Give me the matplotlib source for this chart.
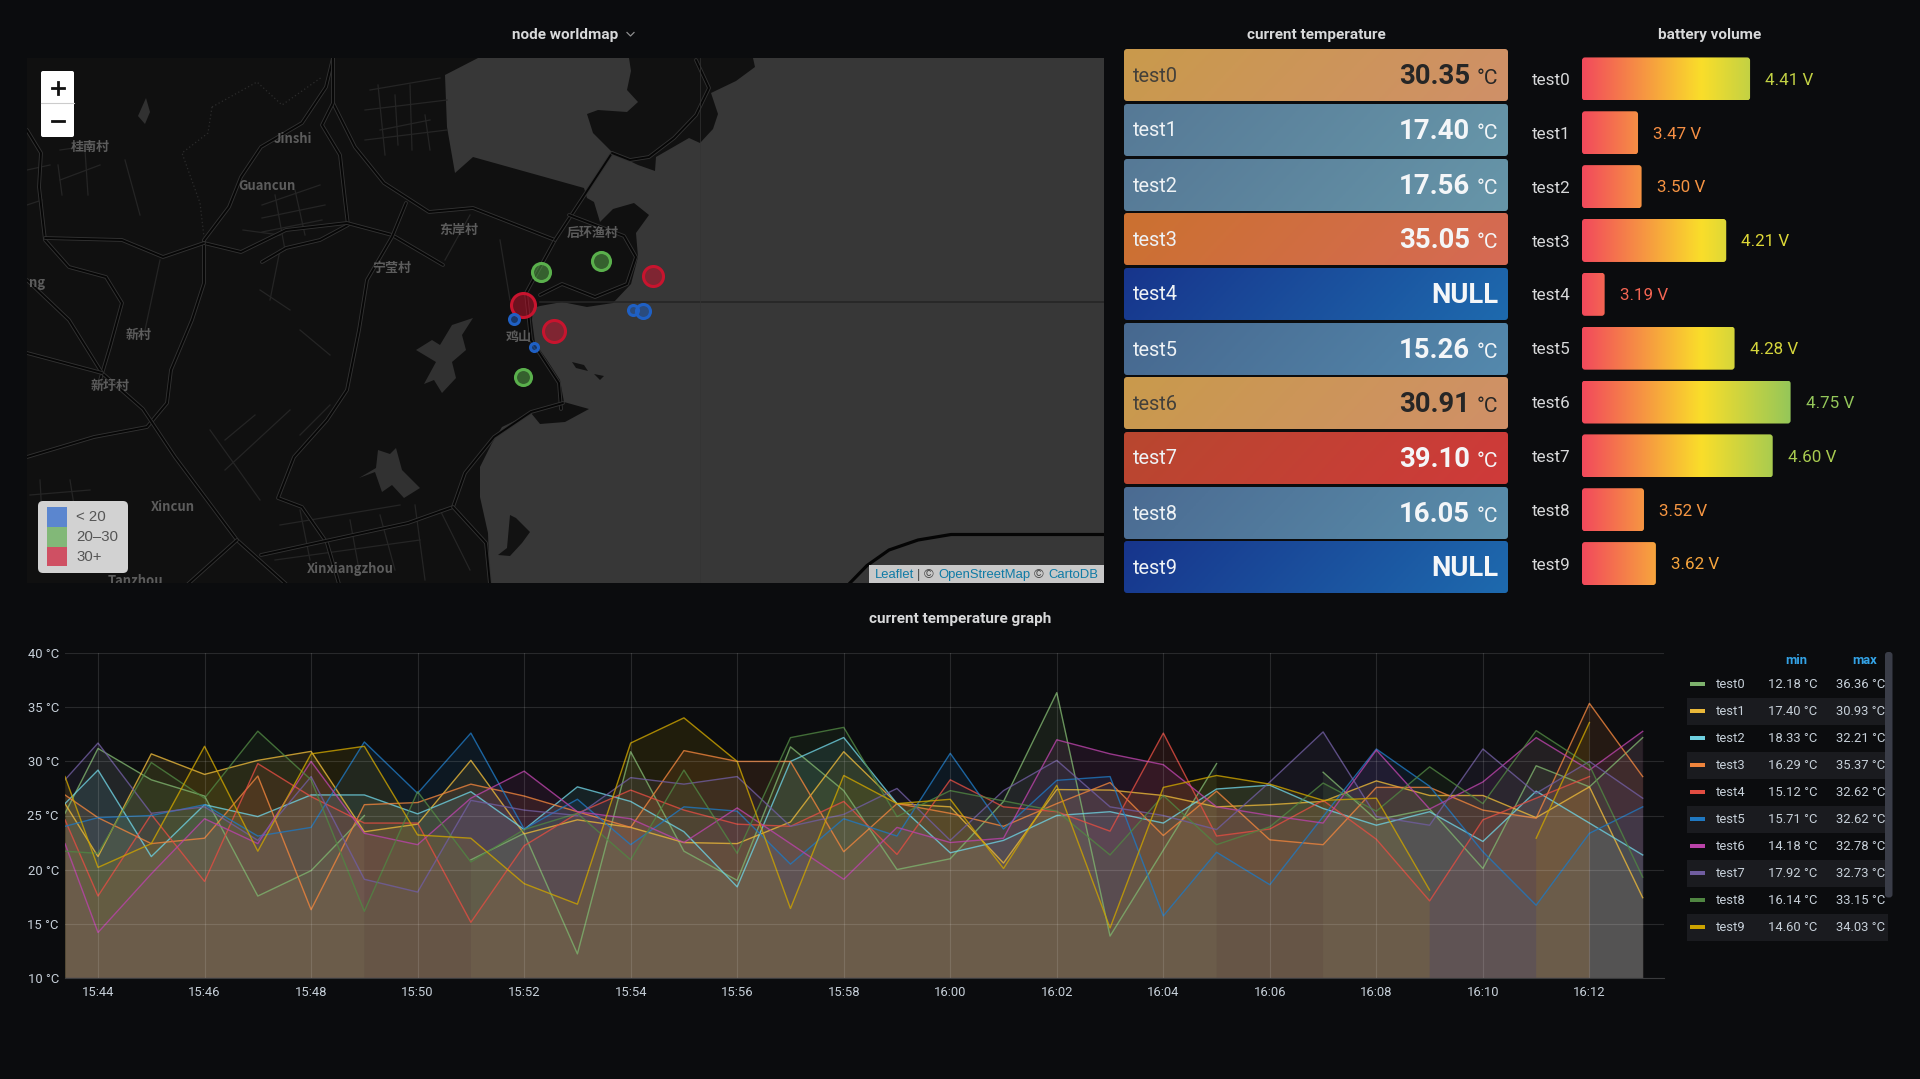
import numpy as np
import matplotlib
matplotlib.use("Agg")
import matplotlib.pyplot as plt
from matplotlib.colors import LinearSegmentedColormap, to_rgb
from matplotlib.patches import FancyBboxPatch, Polygon, Rectangle

nan = float("nan")

# ===============================
# Time series
# ===============================
# minutes after 15:44, the first sample is cut by the left edge
minutes = [-0.62] + list(range(0, 30))
tick_minutes = list(range(0, 29, 2))
tick_labels = ["15:44", "15:46", "15:48", "15:50", "15:52", "15:54", "15:56", "15:58",
               "16:00", "16:02", "16:04", "16:06", "16:08", "16:10", "16:12"]
y_ticks = [10, 15, 20, 25, 30, 35, 40]

test0 = [25.2, 31.2, 28.3, 26.8, 17.55, 19.9, 25.0, nan, 20.9, 23.35, 12.2, 30.9, 21.7, 19.0, 31.35, 27.3,
         20.0, 21.0, 26.3, 36.36, 13.85, 21.8, 29.8, nan, 29.0, 24.6, 25.6, 20.1, 29.6, 27.65, 32.2]
test1 = [26.1, 21.2, 30.7, 28.8, 30.1, 30.93, 23.5, 24.2, 30.1, 23.3, 24.6, 23.9, 22.5, 22.4, 24.4, 30.9,
         26.1, 25.8, 20.6, 27.4, 27.35, 26.85, 25.8, 26.0, 26.3, 28.2, 26.85, 26.85, 24.8, 27.65, 17.4]
test2 = [26.1, 29.2, 21.2, 26.0, 24.9, 26.9, 26.9, 25.15, 27.2, 23.7, 27.65, 26.3, 23.5, 18.4, 30.0, 32.21,
         26.1, 21.55, 22.7, 25.0, 25.35, 24.3, 27.45, 27.8, 25.65, 24.1, 25.35, 22.6, 27.25, 24.3, 21.35]
test3 = [26.9, 24.8, 22.4, 22.9, 28.65, 16.29, 26.0, 26.2, 27.9, 26.8, 25.35, 23.9, 31.0, 30.0, 30.0, 21.65,
         26.1, 25.2, 24.0, 26.1, 28.05, 23.15, 27.25, 22.75, 22.3, 27.6, 27.6, 25.5, 24.75, 35.37, 28.6]
test4 = [24.6, 17.55, 25.1, 18.9, 29.8, 26.75, 24.3, 24.3, 15.12, 22.2, 25.2, 27.35, 25.5, 24.2, 24.0, 26.3,
         21.4, 28.3, 25.8, 25.35, 23.55, 32.62, 23.1, 23.75, 26.4, 22.8, 17.1, 24.6, 26.6, 28.6, nan]
test5 = [24.0, 24.8, 25.0, 26.0, 23.1, 23.9, 31.8, 27.05, 32.62, 23.75, 26.5, 22.3, 25.8, 25.4, 20.5, 24.7,
         23.1, 30.75, 23.75, 28.25, 28.6, 15.71, 21.6, 18.6, 24.9, 31.15, 27.7, 21.65, 16.7, 23.35, 25.8]
test6 = [22.4, 14.18, 19.6, 24.7, 22.4, 30.0, 23.35, 22.3, 26.6, 29.1, 25.35, 24.7, 22.5, 25.7, 22.4, 19.1,
         23.9, 22.5, 22.9, 32.0, 30.7, 29.7, 25.8, 25.0, 24.3, 31.05, 25.6, 28.1, 32.2, 29.2, 32.78]
test7 = [28.3, 31.7, 25.2, 25.8, 22.7, 28.6, 19.1, 17.92, 26.4, 25.5, 25.0, 28.5, 27.9, 28.6, 24.0, 25.1,
         27.5, 22.7, 27.3, 30.1, 25.8, 25.0, 23.7, 28.1, 32.73, 24.9, 24.1, 31.15, 27.05, 30.0, 26.6]
test8 = [21.7, 21.5, 29.9, 26.6, 32.8, 28.3, 16.14, 27.2, 20.7, 23.7, 25.2, 20.9, 29.2, 21.5, 32.2, 33.15,
         24.9, 27.3, 26.35, 25.4, 21.35, 26.85, 22.3, 23.95, 28.0, 25.4, 29.5, 26.1, 32.85, 29.65, 19.3]
test9 = [28.6, 20.2, 22.4, 31.4, 21.7, 30.7, 31.4, 23.2, 22.9, 18.7, 16.8, 31.7, 34.03, 30.0, 16.4, 28.7,
         26.1, 26.5, 20.1, 27.8, 14.6, 27.6, 28.7, 27.9, 26.4, 26.6, 18.1, nan, 22.9, 33.6, nan]

names = ["test0", "test1", "test2", "test3", "test4", "test5", "test6", "test7", "test8", "test9"]
series = [test0, test1, test2, test3, test4, test5, test6, test7, test8, test9]
series_colors = ["#7EB26D", "#EAB839", "#6ED0E0", "#EF843C", "#E24D42",
                 "#1F78C1", "#BA43A9", "#705DA0", "#508642", "#CCA300"]
legend_min = ["12.18", "17.40", "18.33", "16.29", "15.12", "15.71", "14.18", "17.92", "16.14", "14.60"]
legend_max = ["36.36", "30.93", "32.21", "35.37", "32.62", "32.62", "32.78", "32.73", "33.15", "34.03"]

# ===============================
# Stat panels and battery gauge
# ===============================
current_temp = [30.35, 17.40, 17.56, 35.05, None, 15.26, 30.91, 39.10, 16.05, None]
temp_left = ["#c99a4c", "#567996", "#567996", "#cb7130", "#17358c",
             "#47688f", "#c99a4c", "#b8472f", "#4b6b92", "#17358c"]
temp_right = ["#d09068", "#6796a9", "#6796a9", "#d66a55", "#1e6aae",
              "#5489ad", "#d09068", "#cf3a3a", "#5a8eab", "#1e6aae"]
dark_text = [True, False, False, False, False, False, True, False, False, False]
battery = [4.41, 3.47, 3.50, 4.21, 3.19, 4.28, 4.75, 4.60, 3.52, 3.62]

# ===============================
# Map content, in reference pixels
# ===============================
sea_outline = [(478, 58), (445, 75), (447, 127), (455, 173), (473, 157), (584, 188), (587, 198), (594, 202),
               (600, 222), (613, 209), (634, 203), (649, 215), (636, 233), (638, 257), (631, 284), (613, 303),
               (587, 307), (562, 302), (540, 306), (533, 308), (532, 320), (535, 343), (547, 360), (560, 380),
               (564, 402), (589, 409), (565, 422), (540, 424), (531, 413), (502, 427), (492, 443), (480, 467),
               (480, 497), (488, 533), (490, 584), (1104, 584), (1104, 58)]
north_land = [(629, 58), (753, 58), (755, 67), (736, 81), (711, 93), (718, 114), (713, 129), (700, 143),
              (689, 138), (656, 157), (655, 171), (638, 165), (613, 153), (593, 133), (587, 114), (598, 110),
              (627, 112), (638, 102), (627, 90), (631, 71)]
islands = [[(572, 362), (584, 365), (588, 371), (576, 368)], [(594, 374), (604, 376), (600, 380)],
           [(498, 555), (507, 548), (510, 515), (516, 518), (530, 532), (522, 543), (510, 556)]]
lakes = [[(416, 350), (432, 340), (440, 345), (452, 325), (473, 318), (462, 335), (466, 350), (452, 362), (456, 378),
          (442, 393), (434, 380), (424, 384), (436, 362)],
         [(359, 478), (376, 468), (378, 450), (390, 454), (396, 448), (402, 470), (420, 488), (404, 498), (392, 485),
          (382, 492), (375, 472)],
         [(138, 116), (146, 98), (150, 112), (145, 124)]]
roads = [
    [(333, 58), (326, 87), (302, 123), (261, 147), (241, 177), (229, 207), (204, 240), (204, 283), (192, 320), (171, 370), (167, 403), (147, 427), (94, 437), (27, 457)],
    [(333, 103), (355, 147), (384, 183), (429, 212), (473, 208), (555, 240), (526, 293), (531, 340), (559, 383), (561, 409)],
    [(333, 58), (333, 103), (322, 125), (340, 155), (345, 200), (348, 225), (320, 240), (286, 248), (262, 262)],
    [(204, 243), (241, 252), (286, 230), (347, 223), (392, 235), (443, 265)],
    [(406, 203), (392, 237), (367, 280), (359, 330), (347, 390), (327, 420), (294, 457), (278, 498), (302, 507), (327, 543), (339, 584)],
    [(27, 130), (41, 153), (39, 187), (45, 240), (69, 267), (106, 277), (122, 303), (110, 347), (98, 387)],
    [(27, 280), (69, 320), (102, 373), (143, 409), (175, 457), (237, 540), (286, 584)],
    [(27, 353), (102, 373)],
    [(45, 238), (122, 240), (163, 257), (204, 243)],
    [(612, 153), (555, 240)],
    [(612, 153), (630, 160), (649, 157), (674, 138), (696, 115), (709, 88), (696, 60)],
    [(261, 555), (408, 523), (453, 507), (465, 473), (494, 437), (531, 412), (563, 403)],
    [(453, 507), (486, 543), (490, 584)],
    [(237, 540), (188, 584)],
    [(569, 215), (624, 236), (636, 257), (627, 284), (595, 297), (562, 284), (540, 295)],
]
streets = [
    [(262, 205), (320, 185)], [(262, 218), (325, 205)], [(262, 232), (322, 220)], [(275, 195), (285, 250)],
    [(295, 190), (305, 235)], [(370, 90), (440, 78)], [(365, 110), (447, 100)], [(365, 140), (447, 130)],
    [(378, 85), (385, 155)], [(410, 85), (412, 150)], [(60, 180), (100, 165)], [(125, 160), (140, 215)],
    [(160, 260), (145, 330)], [(280, 525), (400, 505)], [(300, 510), (310, 560)], [(350, 520), (360, 575)],
    [(380, 515), (395, 570)], [(415, 505), (425, 580)], [(440, 510), (470, 570)], [(30, 495), (90, 490)],
    [(40, 480), (45, 570)], [(70, 480), (78, 530)], [(275, 560), (420, 540)], [(210, 430), (260, 500)],
    [(225, 470), (290, 410)], [(300, 435), (330, 405)], [(500, 240), (510, 300)], [(470, 215), (445, 260)],
    [(27, 170), (50, 165)], [(27, 205), (42, 200)], [(60, 150), (95, 145)], [(58, 165), (62, 195)], [(85, 150), (88, 195)],
    [(380, 130), (430, 120)], [(395, 95), (398, 145)], [(425, 115), (430, 150)], [(243, 230), (280, 235)],
    [(260, 290), (290, 310)], [(280, 250), (270, 300)], [(300, 330), (330, 355)], [(225, 440), (255, 415)],
]
boundary = [[(212, 107), (257, 82), (282, 105), (322, 77)],
            [(212, 107), (208, 133), (182, 153), (200, 203), (204, 237)]]
map_labels = [("桂南村", 90, 147), ("Jinshi", 293, 139), ("Guancun", 267, 186), ("东岸村", 459, 230),
              ("宁莹村", 392, 268), ("后环渔村", 593, 233), ("新村", 139, 335), ("新圩村", 110, 386),
              ("鸡山", 519, 337), ("ng", 37, 283), ("Xincun", 173, 507), ("Xinxiangzhou", 350, 569),
              ("Tanzhou", 135, 581)]
node_x = [523, 554, 653, 541, 601, 523, 514, 534, 633, 643]
node_y = [305, 331, 276, 272, 261, 377, 319, 347, 310, 311]
node_r = [12, 11, 10, 9, 9, 8, 5, 4, 5, 7]
node_colors = ["#c8142e", "#c8142e", "#c8142e", "#5ab04c", "#5ab04c", "#5ab04c",
               "#1f60c4", "#1f60c4", "#1f60c4", "#1f60c4"]
scale_labels = ["< 20", "20–30", "30+"]
scale_colors = ["#5b86cf", "#82b878", "#cf5063"]

BG = "#0b0c0e"
TEXT = "#d8d9da"
SOFT = "#c7d0d9"
SW, SH = 1920, 1079

plt.rcParams["font.family"] = ["Roboto", "Noto Sans CJK SC", "DejaVu Sans"]
fig = plt.figure(figsize=(19.2, 10.79), dpi=100, facecolor=BG)


def px_axes(left, top, right, bottom):
    return fig.add_axes([left / SW, 1 - bottom / SH, (right - left) / SW, (bottom - top) / SH])


def pt(px):
    return px * 0.72


# Overlay in pixel coordinates for titles, stat panels and legend table
over = fig.add_axes([0, 0, 1, 1], zorder=5)
over.set_xlim(0, SW)
over.set_ylim(SH, 0)
over.axis("off")
over.patch.set_alpha(0)

title_px = 15.3
over.text(565.5, 34.5, "node worldmap", color=TEXT, fontsize=pt(title_px), fontweight="bold", ha="center", va="center")
over.plot([627, 630.5, 634], [32.5, 36, 32.5], color="#8e8e8e", lw=0.9)
over.text(1316, 34.5, "current temperature", color=TEXT, fontsize=pt(title_px), fontweight="bold", ha="center", va="center")
over.text(1710, 34.5, "battery volume", color=TEXT, fontsize=pt(title_px), fontweight="bold", ha="center", va="center")
over.text(960, 619, "current temperature graph", color=TEXT, fontsize=pt(title_px), fontweight="bold", ha="center", va="center")

# ===============================
# Map
# ===============================
ax_map = px_axes(27, 58, 1104, 583)
ax_map.set_xlim(27, 1104)
ax_map.set_ylim(583, 58)
ax_map.set_facecolor("#101010")
ax_map.set_xticks([])
ax_map.set_yticks([])
for spine in ax_map.spines.values():
    spine.set_visible(False)

SEA = "#373737"
ax_map.add_patch(Polygon(sea_outline, closed=True, color=SEA, lw=0))
ax_map.add_patch(Polygon(north_land, closed=True, color="#111111", lw=0))
for shape in islands:
    ax_map.add_patch(Polygon(shape, closed=True, color="#121212", lw=0))
for shape in lakes:
    ax_map.add_patch(Polygon(shape, closed=True, color="#313131", lw=0))

for line in streets:
    xs, ys = zip(*line)
    ax_map.plot(xs, ys, color="#252525", lw=0.9)
for line in boundary:
    xs, ys = zip(*line)
    ax_map.plot(xs, ys, color="#2c2c2c", lw=0.9, ls=(0, (1, 2)))
for line in roads:
    xs, ys = zip(*line)
    ax_map.plot(xs, ys, color="#323232", lw=2.7, solid_capstyle="round")
    ax_map.plot(xs, ys, color="#060606", lw=1.4, solid_capstyle="round")

# Graticule seam and the road over the sea at the bottom right
ax_map.plot([540, 1104], [302, 302], color="#262626", lw=1.2)
ax_map.plot([700, 700], [58, 583], color="#333333", lw=0.5)
ax_map.plot([849, 867, 889, 918, 951, 1104], [584, 565.5, 550, 540, 534.5, 534.5], color="#050505", lw=2.3)

for label, lx, ly in map_labels:
    ax_map.text(lx, ly, label, color="#5c5c5c", fontsize=pt(13), fontweight="bold",
                ha="center", va="center", clip_on=True,
                family=["Noto Sans CJK SC", "DejaVu Sans"])

for nx, ny, nr, col in zip(node_x, node_y, node_r, node_colors):
    size = (2 * nr * 0.72) ** 2
    r, g, b = to_rgb(col)
    ax_map.scatter([nx], [ny], s=size, facecolor=(r, g, b, 0.5), edgecolor=col, linewidth=2.2, zorder=4)

# Zoom buttons
ax_map.add_patch(FancyBboxPatch((41, 71), 33, 66, boxstyle="round,pad=0,rounding_size=2", fc="white", ec="none", zorder=6))
ax_map.plot([41, 74], [103, 103], color="#cccccc", lw=0.8, zorder=7)
ax_map.plot([52, 64], [88, 88], color="#111111", lw=2.0, zorder=7)
ax_map.plot([58, 58], [82, 94], color="#111111", lw=2.0, zorder=7)
ax_map.plot([52, 64], [121, 121], color="#111111", lw=2.0, zorder=7)

# Threshold legend
ax_map.add_patch(FancyBboxPatch((38, 501), 90, 72, boxstyle="round,pad=0,rounding_size=5", fc="#d2d2d2", ec="none", zorder=6))
for i, (lab, col) in enumerate(zip(scale_labels, scale_colors)):
    ax_map.add_patch(Rectangle((47, 507 + i * 19.8), 19.5, 19.8, fc=col, ec="none", zorder=7))
    ax_map.text(76, 517 + i * 20, lab, color="#555555", fontsize=pt(15), ha="left", va="center", zorder=7,
                family="Liberation Sans")

# Attribution
ax_map.add_patch(Rectangle((869, 565), 236, 19, fc="#c8c8c8", ec="none", zorder=6))
LINK = "#0f7ba6"
for piece, px_x, col in [("Leaflet", 874.5, LINK), ("|", 917, "#444444"), ("©", 924, "#444444"),
                         ("OpenStreetMap", 938.5, LINK), ("©", 1034, "#444444"), ("CartoDB", 1048.5, LINK)]:
    ax_map.text(px_x, 575, piece, color=col, fontsize=pt(13), ha="left", va="center", zorder=7,
                family="Liberation Sans")

# ===============================
# Current temperature stat panels
# ===============================
panel_tops = [49, 104, 159, 213, 268, 323, 377, 432, 487, 541]
panel_h = 52
for i, name in enumerate(names):
    top = panel_tops[i]
    box = FancyBboxPatch((1124, top), 384, panel_h, boxstyle="round,pad=0,rounding_size=3",
                         fc="none", ec="none", transform=over.transData)
    over.add_patch(box)
    xx, yy = np.meshgrid(np.linspace(0, 1, 128), np.linspace(0, 1, 16))
    mix = ((xx + 0.12 * yy) / 1.12)[..., None]
    grad = (1 - mix) * np.array(to_rgb(temp_left[i])) + mix * np.array(to_rgb(temp_right[i]))
    img = over.imshow(grad, extent=(1124, 1508, top + panel_h, top), aspect="auto", zorder=2)
    img.set_clip_path(box)

    ink = "#262626" if dark_text[i] else "#f4f6f8"
    name_ink = "#43403a" if dark_text[i] else "#eef2f5"
    mid = top + panel_h / 2
    over.text(1133, mid + 6.5, name, color=name_ink, fontsize=pt(20), ha="left", va="baseline", zorder=3)
    if current_temp[i] is None:
        over.text(1498.5, mid + 9, "NULL", color=ink, fontsize=pt(27.5), fontweight="bold", ha="right", va="baseline", zorder=3)
    else:
        over.text(1470, mid + 9, f"{current_temp[i]:.2f}", color=ink, fontsize=pt(27.5), fontweight="bold",
                  ha="right", va="baseline", zorder=3)
        over.text(1477, mid + 9, "°C", color=ink, fontsize=pt(21), ha="left", va="baseline", zorder=3)
over.set_xlim(0, SW)
over.set_ylim(SH, 0)

# ===============================
# Battery bar gauge
# ===============================
# 119.2 px per volt, the bars start at 3 V
ax_bat = px_axes(1582, 52, 1582 + 338, 52 + 53.85 * 10)
ax_bat.axis("off")
ax_bat.patch.set_alpha(0)
gauge = LinearSegmentedColormap.from_list("gauge", ["#f2495c", "#fade2a", "#73bf69"])
bar_h = 43 / 53.85
strip = np.linspace(0, 1, 256)[None, :]
x_unit = 119.2
y_unit = 53.85
for i, (name, volt) in enumerate(zip(names, battery)):
    box = FancyBboxPatch((3, i - bar_h / 2), volt - 3, bar_h, boxstyle="round,pad=0,rounding_size=0.025",
                         mutation_aspect=x_unit / y_unit, fc="none", ec="none")
    ax_bat.add_patch(box)
    img = ax_bat.imshow(strip, cmap=gauge, vmin=0, vmax=1, extent=(3, 5, i + bar_h / 2, i - bar_h / 2), aspect="auto")
    img.set_clip_path(box)
    ax_bat.text(volt + 15 / x_unit, i + 0.025, f"{volt:.2f} V", color=gauge((volt - 3) / 2), fontsize=pt(17),
                ha="left", va="center")
    over.text(1571, 80.5 + i * 53.85, name, color=TEXT, fontsize=pt(17), ha="right", va="center")
ax_bat.set_xlim(3, 3 + 338 / 119.2)
ax_bat.set_ylim(9.5, -0.5)

# ===============================
# Temperature graph
# ===============================
ax = px_axes(65, 653.3, 1664, 977.7)
ax.set_facecolor(BG)
ax.set_xlim(-0.62, 29.4)
ax.set_ylim(10, 40)
for name, values, col in zip(names, series, series_colors):
    vals = np.array(values, dtype=float)
    ok = ~np.isnan(vals)
    ax.fill_between(minutes, 10, np.where(ok, vals, 10), where=ok, color=col, alpha=0.115, lw=0)
    ax.plot(minutes, vals, color=col, lw=1.0, alpha=0.8, label=name)

ax.set_xticks(tick_minutes)
ax.set_xticklabels(tick_labels)
ax.set_yticks(y_ticks)
ax.set_yticklabels([f"{t} °C" for t in y_ticks])
ax.tick_params(axis="both", length=0, labelcolor=SOFT, labelsize=pt(13))
ax.tick_params(axis="x", pad=6)
ax.tick_params(axis="y", pad=4.5)
ax.grid(True, color="#ffffff", alpha=0.12, lw=0.8)
ax.set_axisbelow(False)
for side in ["top", "right", "left"]:
    ax.spines[side].set_visible(False)
ax.spines["bottom"].set_color("#3a3b3d")

# ===============================
# Legend table
# ===============================
over.text(1807.5, 660, "min", color="#33a2e5", fontsize=pt(13), fontweight="bold", ha="right", va="center")
over.text(1877, 660, "max", color="#33a2e5", fontsize=pt(13), fontweight="bold", ha="right", va="center")
for i, name in enumerate(names):
    row_y = 684.2 + i * 27
    if i % 2 == 1:
        over.add_patch(Rectangle((1687, row_y - 13.5), 201, 27, fc="#1a1b1f", ec="none", zorder=1))
    over.add_patch(Rectangle((1690, row_y - 2), 15, 4, fc=series_colors[i], ec="none", zorder=2))
    over.text(1716, row_y, name, color=SOFT, fontsize=pt(13), ha="left", va="center", zorder=2)
    over.text(1767.7, row_y, f"{legend_min[i]} °C", color=SOFT, fontsize=pt(13), ha="left", va="center", zorder=2)
    over.text(1836, row_y, f"{legend_max[i]} °C", color=SOFT, fontsize=pt(13), ha="left", va="center", zorder=2)
over.add_patch(FancyBboxPatch((1885, 652), 7.5, 245.5, boxstyle="round,pad=0,rounding_size=3",
                              fc="#3a3d48", ec="none", zorder=4))

fig.savefig("out.png", dpi=100, facecolor=BG)
